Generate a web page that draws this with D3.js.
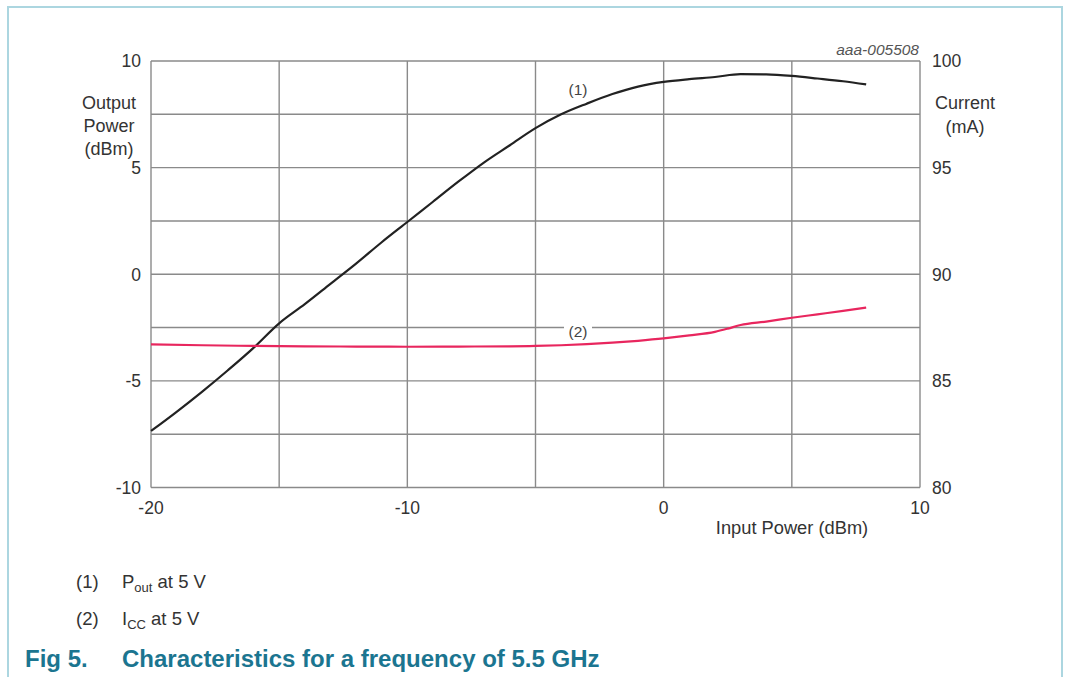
<!DOCTYPE html>
<html>
<head>
<meta charset="utf-8">
<script src="https://cdn.jsdelivr.net/npm/d3@7"></script>
<style>
  html, body { margin: 0; padding: 0; background: #fff; }
  svg { display: block; font-family: "Liberation Sans", Arial, sans-serif; }
</style>
</head>
<body>
<svg id="chart" width="1065" height="677"></svg>
<script>
// ---- data ----
const inputPower = [-20, -19, -18, -17, -16, -15, -14, -13, -12, -11, -10, -9, -8, -7, -6, -5, -4, -3, -2, -1, 0, 1, 2, 3, 4, 5, 6, 7, 7.9];
const outputPower = [-7.35, -6.45, -5.5, -4.5, -3.45, -2.3, -1.4, -0.45, 0.5, 1.5, 2.45, 3.4, 4.35, 5.25, 6.05, 6.85, 7.5, 8.0, 8.45, 8.8, 9.02, 9.15, 9.25, 9.38, 9.37, 9.3, 9.18, 9.05, 8.9];
const currentX = [-20, -18, -16, -14, -12, -10, -8, -6, -5, -4, -3, -2, -1, 0, 1, 2, 2.5, 3, 4, 5, 6, 7, 7.9];
const currentMA = [86.71, 86.67, 86.64, 86.62, 86.61, 86.60, 86.61, 86.62, 86.64, 86.67, 86.72, 86.79, 86.88, 86.99, 87.13, 87.30, 87.45, 87.62, 87.78, 87.96, 88.12, 88.28, 88.44];
const xTicks = [-20, -10, 0, 10];
const xGrid = [-20, -15, -10, -5, 0, 5, 10];
const yLeftTicks = [10, 5, 0, -5, -10];
const yGrid = [-10, -7.5, -5, -2.5, 0, 2.5, 5, 7.5, 10];
const yRightTicks = [100, 95, 90, 85, 80];

const svg = d3.select("#chart");

// frame
svg.append("path")
  .attr("d", "M8,680 L8,7 L1062,7 L1062,680")
  .attr("fill", "none").attr("stroke", "#acd6e0").attr("stroke-width", 2);

const x = d3.scaleLinear().domain([-20, 10]).range([151, 920]);
const yL = d3.scaleLinear().domain([-10, 10]).range([487.5, 61]);
const yR = d3.scaleLinear().domain([80, 100]).range([487.5, 61]);

const gridColor = "#8a8a8a";
const g = svg.append("g");
g.selectAll("line.v").data(xGrid).join("line")
  .attr("x1", d => x(d)).attr("x2", d => x(d))
  .attr("y1", yL(10)).attr("y2", yL(-10))
  .attr("stroke", gridColor).attr("stroke-width", 1.4);
g.selectAll("line.h").data(yGrid).join("line")
  .attr("x1", x(-20)).attr("x2", x(10))
  .attr("y1", d => yL(d)).attr("y2", d => yL(d))
  .attr("stroke", gridColor).attr("stroke-width", 1.4);

const textColor = "#333";

// curves
const line1 = d3.line().x((d, i) => x(inputPower[i])).y(d => yL(d)).curve(d3.curveMonotoneX);
svg.append("path").attr("d", line1(outputPower))
  .attr("fill", "none").attr("stroke", "#222").attr("stroke-width", 2.2);

const line2 = d3.line().x((d, i) => x(currentX[i])).y(d => yR(d)).curve(d3.curveMonotoneX);
svg.append("path").attr("d", line2(currentMA))
  .attr("fill", "none").attr("stroke", "#e8265e").attr("stroke-width", 2.2);

// curve labels
svg.append("rect").attr("x", 564).attr("y", 321).attr("width", 28).attr("height", 16).attr("fill", "#fff");
svg.append("text").attr("x", 578).attr("y", 337).attr("text-anchor", "middle")
  .attr("font-size", 15.5).attr("fill", "#444").text("(2)");
svg.append("text").attr("x", 578).attr("y", 95).attr("text-anchor", "middle")
  .attr("font-size", 15.5).attr("fill", "#444").text("(1)");

// tick labels
const fs = 17.5;
svg.selectAll("text.yl").data(yLeftTicks).join("text")
  .attr("x", 141).attr("y", d => yL(d) + 6.3).attr("text-anchor", "end")
  .attr("font-size", fs).attr("fill", textColor).text(d => d);
svg.selectAll("text.yr").data(yRightTicks).join("text")
  .attr("x", 932).attr("y", d => yR(d) + 6.3).attr("text-anchor", "start")
  .attr("font-size", fs).attr("fill", textColor).text(d => d);
svg.selectAll("text.xt").data(xTicks).join("text")
  .attr("x", d => x(d)).attr("y", 514).attr("text-anchor", "middle")
  .attr("font-size", fs).attr("fill", textColor).text(d => d);

// axis titles
const leftTitle = ["Output", "Power", "(dBm)"];
svg.selectAll("text.lt").data(leftTitle).join("text")
  .attr("x", 109).attr("y", (d, i) => 109 + i * 23).attr("text-anchor", "middle")
  .attr("font-size", 18).attr("fill", textColor).text(d => d);
const rightTitle = ["Current", "(mA)"];
svg.selectAll("text.rt").data(rightTitle).join("text")
  .attr("x", 965).attr("y", (d, i) => 109 + i * 24).attr("text-anchor", "middle")
  .attr("font-size", 18).attr("fill", textColor).text(d => d);
svg.append("text").attr("x", 792).attr("y", 534).attr("text-anchor", "middle")
  .attr("font-size", 18.3).attr("fill", textColor).text("Input Power (dBm)");
svg.append("text").attr("x", 919).attr("y", 54.5).attr("text-anchor", "end")
  .attr("font-size", 15.5).attr("font-style", "italic").attr("fill", "#555").text("aaa-005508");

// legend
const leg = svg.append("g").attr("font-size", 18.5).attr("fill", textColor);
leg.append("text").attr("x", 76).attr("y", 588).text("(1)");
const t1 = leg.append("text").attr("x", 122).attr("y", 588);
t1.append("tspan").text("P");
t1.append("tspan").attr("font-size", 13).attr("dy", 4).text("out");
t1.append("tspan").attr("dy", -4).text(" at 5 V");
leg.append("text").attr("x", 76).attr("y", 625).text("(2)");
const t2 = leg.append("text").attr("x", 122).attr("y", 625);
t2.append("tspan").text("I");
t2.append("tspan").attr("font-size", 13).attr("dy", 4).text("CC");
t2.append("tspan").attr("dy", -4).text(" at 5 V");

// figure title
svg.append("text").attr("x", 25).attr("y", 667).attr("font-size", 24).attr("font-weight", "bold")
  .attr("fill", "#1b7590").text("Fig 5.");
svg.append("text").attr("x", 122).attr("y", 667).attr("font-size", 24).attr("font-weight", "bold")
  .attr("fill", "#1b7590").text("Characteristics for a frequency of 5.5 GHz");
</script>
</body>
</html>
